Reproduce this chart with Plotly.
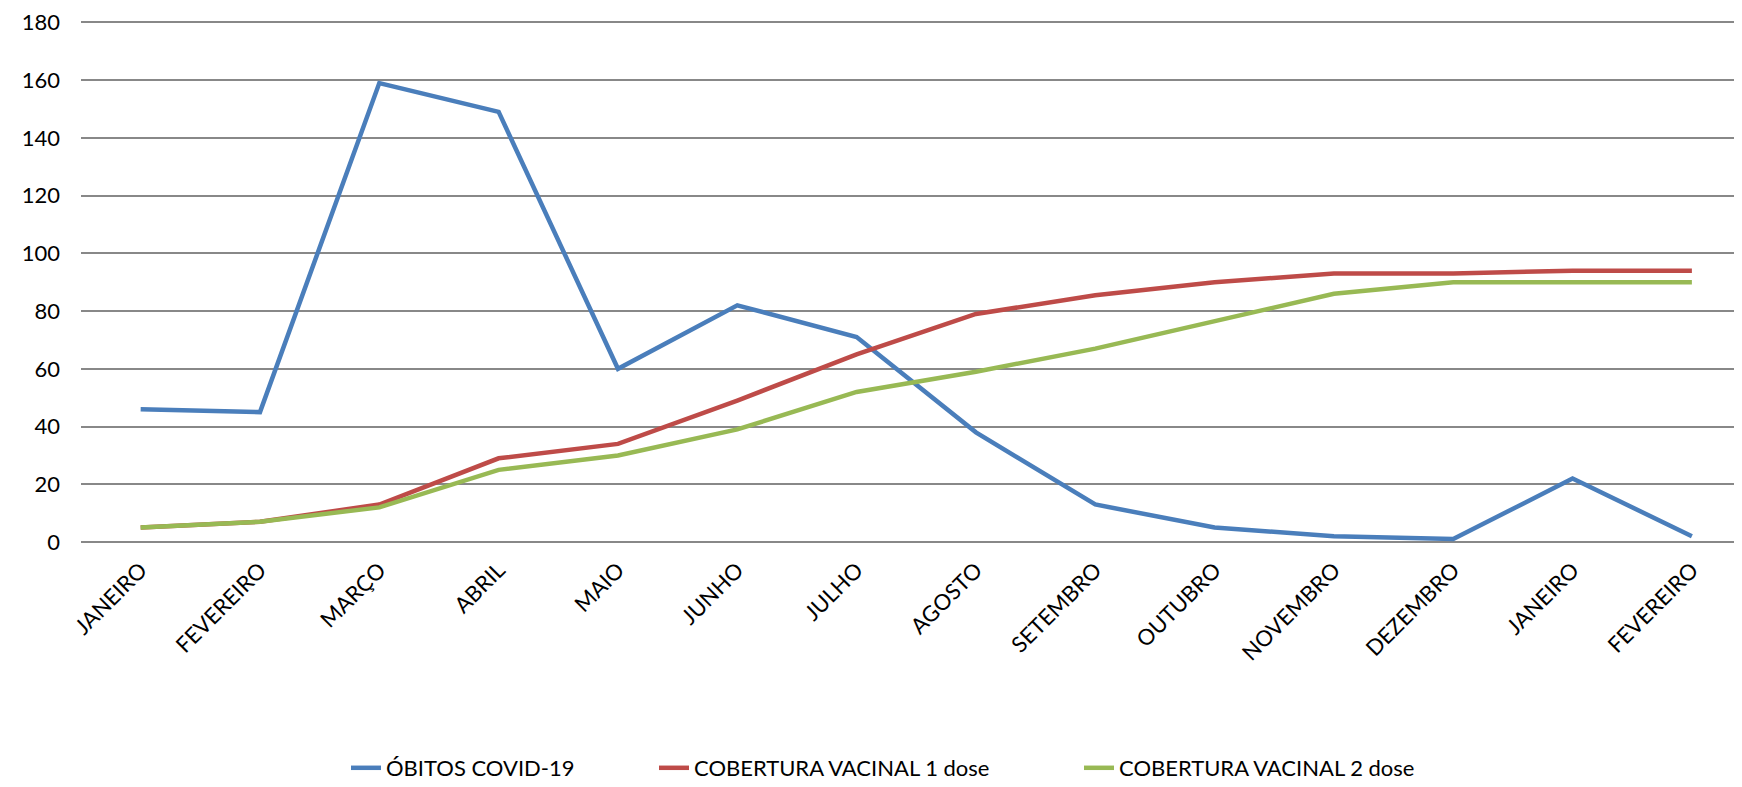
import plotly.graph_objects as go

meses = ["JANEIRO", "FEVEREIRO", "MARÇO", "ABRIL", "MAIO", "JUNHO", "JULHO",
         "AGOSTO", "SETEMBRO", "OUTUBRO", "NOVEMBRO", "DEZEMBRO", "JANEIRO", "FEVEREIRO"]
obitos = [46, 45, 159, 149, 60, 82, 71, 38, 13, 5, 2, 1, 22, 2]
dose1 = [5, 7, 13, 29, 34, 49, 65, 79, 85.5, 90, 93, 93, 94, 94]
dose2 = [5, 7, 12, 25, 30, 39, 52, 59, 67, 76.5, 86, 90, 90, 90]
y_ticks = [0, 20, 40, 60, 80, 100, 120, 140, 160, 180]

x_idx = list(range(len(meses)))
# the page body has an 8px margin, so the figure is 8px smaller than the window
W, H = 1734, 779
FONT = "Lato, 'Open Sans', sans-serif"

fig = go.Figure()
series = [
    ("ÓBITOS COVID-19", obitos, "#4A7EBB", "legend"),
    ("COBERTURA VACINAL 1 dose", dose1, "#BE4B48", "legend2"),
    ("COBERTURA VACINAL 2 dose", dose2, "#98B954", "legend3"),
]
for name, vals, color, lg in series:
    fig.add_trace(go.Scatter(
        x=x_idx, y=vals, name=name, mode="lines",
        line=dict(color=color, width=4.5),
        legend=lg, showlegend=True,
    ))

leg_common = dict(
    xref="container", yref="container", xanchor="left", yanchor="middle",
    orientation="h", bgcolor="rgba(0,0,0,0)", borderwidth=0,
    font=dict(family=FONT, size=22, color="#000000"),
)
ly = 1 - 760 / H
fig.update_layout(
    width=W, height=H,
    margin=dict(l=73, r=0, t=13, b=245, autoexpand=False),
    paper_bgcolor="white", plot_bgcolor="white",
    font=dict(family=FONT, size=22, color="#000000"),
    legend=dict(x=338 / W, y=ly, **leg_common),
    legend2=dict(x=646 / W, y=ly, **leg_common),
    legend3=dict(x=1071 / W, y=ly, **leg_common),
    xaxis=dict(
        range=[-0.5, 13.42], automargin=False,
        tickmode="array", tickvals=x_idx, ticktext=meses,
        tickangle=-45, showgrid=False, zeroline=False, showline=False,
        ticks="", ticklabelstandoff=10,
        tickfont=dict(family=FONT, size=22, color="#000000"),
    ),
    yaxis=dict(
        range=[0, 180.5], tickmode="array", tickvals=y_ticks, automargin=False,
        showgrid=True, gridcolor="#888888", gridwidth=1.5,
        zeroline=True, zerolinecolor="#888888", zerolinewidth=1.5,
        showline=False, ticks="", ticklabelstandoff=20,
        ticklabeloverflow="allow",
        tickfont=dict(family=FONT, size=22, color="#000000"),
    ),
)

fig.write_html("out.html")
